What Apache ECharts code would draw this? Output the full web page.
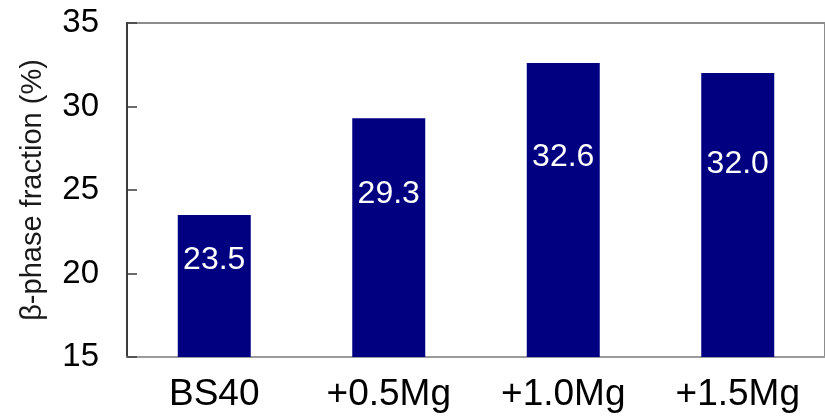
<!DOCTYPE html>
<html>
<head>
<meta charset="utf-8">
<script src="https://cdn.jsdelivr.net/npm/echarts@6/dist/echarts.min.js"></script>
<style>
  html, body { margin: 0; padding: 0; background: #fff; }
  #chart { width: 825px; height: 417px; }
</style>
</head>
<body>
<div id="chart"></div>
<script>
// Alloy compositions and measured beta-phase fraction (%)
const categories = ['BS40', '+0.5Mg', '+1.0Mg', '+1.5Mg'];
const betaFraction = [23.5, 29.3, 32.6, 32.0];
const yTicks = { min: 15, max: 35, interval: 5 };

const chart = echarts.init(document.getElementById('chart'), null, { renderer: 'canvas' });

chart.setOption({
  animation: false,
  backgroundColor: '#ffffff',
  grid: {
    left: 127,
    top: 23,
    bottom: 60,
    width: 702,
    show: true,
    borderColor: '#8c8c8c',
    borderWidth: 2,
    backgroundColor: 'transparent'
  },
  xAxis: {
    type: 'category',
    data: categories,
    axisLine: { show: true, lineStyle: { color: '#9a9a9a', width: 2 } },
    axisTick: { show: false },
    axisLabel: {
      color: '#000',
      fontFamily: 'Liberation Sans, Arial, sans-serif',
      fontSize: 37,
      margin: 19
    }
  },
  yAxis: {
    type: 'value',
    min: yTicks.min,
    max: yTicks.max,
    interval: yTicks.interval,
    name: 'β-phase fraction (%)',
    nameLocation: 'middle',
    nameGap: 80,
    nameRotate: 90,
    nameTextStyle: {
      color: '#1a1a1a',
      fontFamily: 'Liberation Sans, Arial, sans-serif',
      fontSize: 29
    },
    axisLine: { show: true, lineStyle: { color: '#3c3c3c', width: 2 } },
    axisTick: { show: true, inside: true, length: 10, lineStyle: { color: '#3c3c3c', width: 1.5 } },
    splitLine: { show: false },
    axisLabel: {
      color: '#000',
      fontFamily: 'Liberation Sans, Arial, sans-serif',
      fontSize: 33,
      margin: 28
    }
  },
  series: [{
    type: 'bar',
    data: betaFraction,
    barWidth: 73,
    itemStyle: { color: '#000080' },
    label: {
      show: true,
      position: ['50%', '32%'],
      align: 'center',
      verticalAlign: 'middle',
      color: '#ffffff',
      fontFamily: 'Liberation Sans, Arial, sans-serif',
      fontSize: 32,
      formatter: p => p.value.toFixed(1)
    }
  }]
});
</script>
</body>
</html>
